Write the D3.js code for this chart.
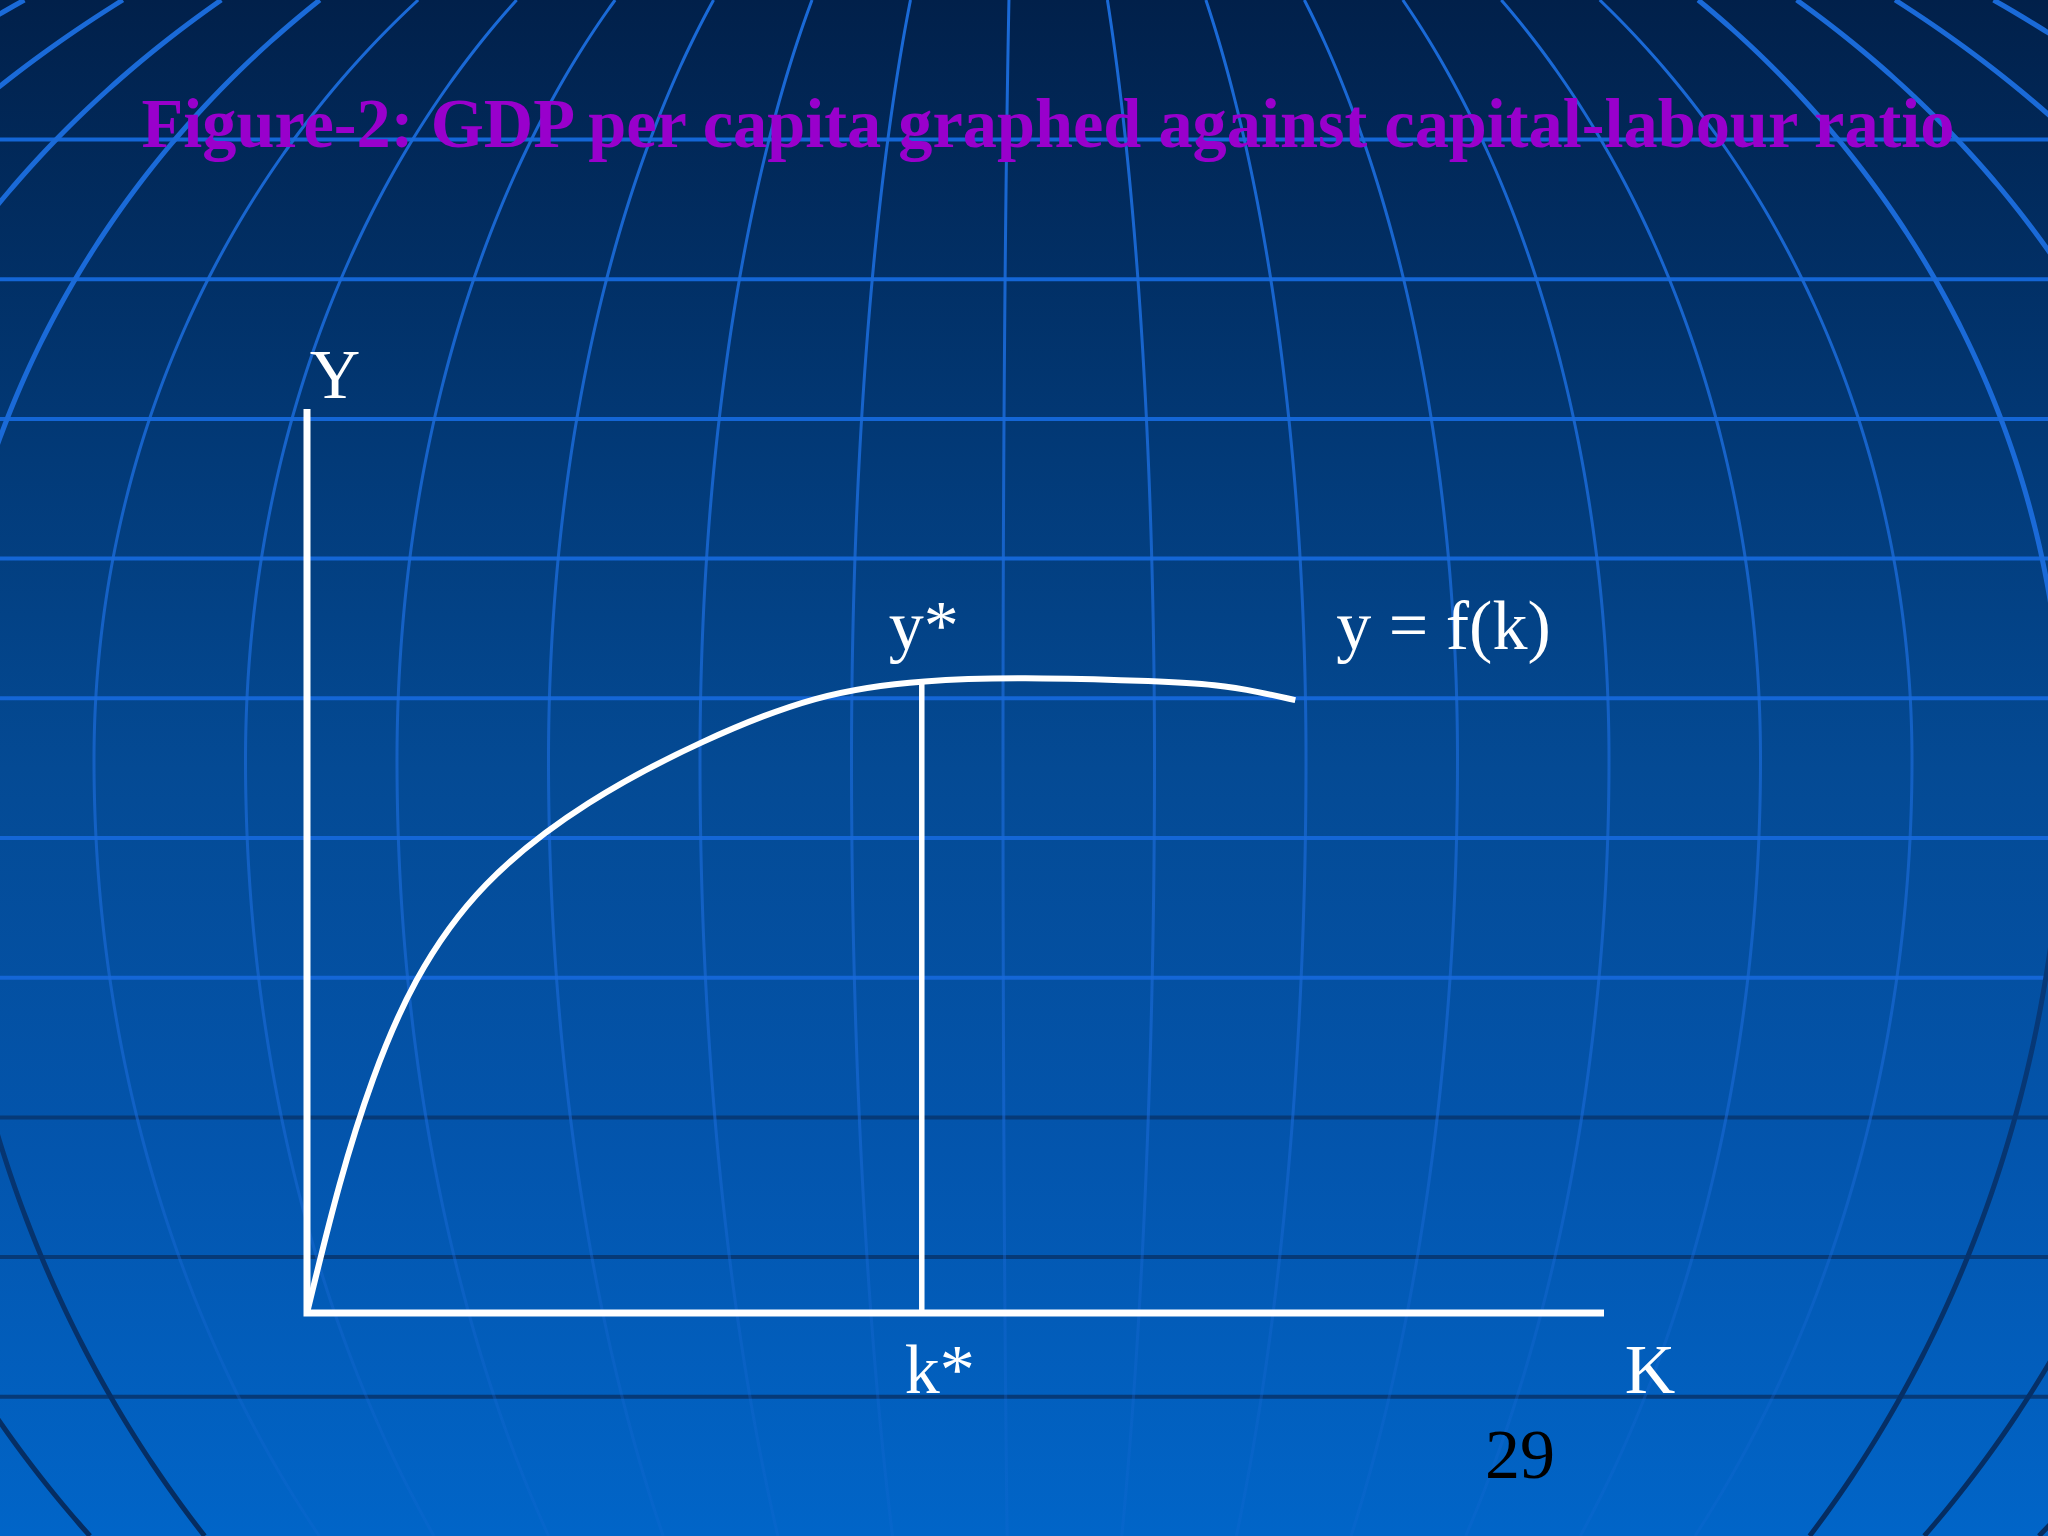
<!DOCTYPE html>
<html>
<head>
<meta charset="utf-8">
<script src="https://cdn.jsdelivr.net/npm/d3@7"></script>
<style>
  html, body { margin: 0; padding: 0; background: #012350; }
  svg { display: block; }
</style>
</head>
<body>
<script>
// y = f(k) (k and y in arbitrary units, axes run 0..10)
const kValues = [0, 0.25, 0.50, 0.81, 1.33, 2.16, 3.05, 3.93, 4.74, 5.69, 6.55, 7.02, 7.34, 7.62];
const yValues = [0, 1.47, 2.60, 3.68, 4.77, 5.68, 6.34, 6.85, 7.01, 7.03, 6.99, 6.95, 6.87, 6.78];
const kStar = 4.74;
const yStar = 7.0;
const kMax = 10;
const yMax = 10;

const title = "Figure-2: GDP per capita graphed against capital-labour ratio";
const yAxisLabel = "Y";
const xAxisLabel = "K";
const yStarLabel = "y*";
const kStarLabel = "k*";
const curveLabel = "y = f(k)";
const slideNumber = "29";

const width = 2048, height = 1536;
const serif = "'Liberation Serif', 'Times New Roman', Times, serif";

const x = d3.scaleLinear().domain([0, kMax]).range([307, 1604]);
const y = d3.scaleLinear().domain([0, yMax]).range([1313, 409]);

const svg = d3.select("body").append("svg")
    .attr("width", width)
    .attr("height", height);

const defs = svg.append("defs");

const bg = defs.append("linearGradient")
    .attr("id", "bg")
    .attr("x1", 0).attr("y1", 0).attr("x2", 0).attr("y2", 1);
[[0, "#01204a"], [0.3, "#023a78"], [0.5, "#044a94"], [0.75, "#0355ad"], [1, "#0165c8"]]
  .forEach(([o, c]) => bg.append("stop").attr("offset", o).attr("stop-color", c));

const thin = defs.append("linearGradient")
    .attr("id", "thin")
    .attr("gradientUnits", "userSpaceOnUse")
    .attr("x1", 0).attr("y1", 0).attr("x2", 0).attr("y2", height);
[[0, 1], [0.3, 0.85], [0.5, 0.7], [0.72, 0.6], [0.88, 0.3], [1, 0.2]]
  .forEach(([o, a]) => thin.append("stop").attr("offset", o)
    .attr("stop-color", "#1a6ad8").attr("stop-opacity", a));

const rim = defs.append("linearGradient")
    .attr("id", "rim")
    .attr("gradientUnits", "userSpaceOnUse")
    .attr("x1", 0).attr("y1", 0).attr("x2", 0).attr("y2", height);
[[0, "#1a6ad8"], [0.5, "#1a6ad8"], [0.62, "#073a7a"], [1, "#052c60"]]
  .forEach(([o, c]) => rim.append("stop").attr("offset", o).attr("stop-color", c));

svg.append("rect")
    .attr("width", width)
    .attr("height", height)
    .attr("fill", "url(#bg)");

// globe grid of the slide template
const grid = svg.append("g").attr("fill", "none");

const gridRows = d3.range(10).map(i => 139.5 + 139.7 * i);
grid.selectAll("line.row")
  .data(gridRows)
  .join("line")
    .attr("class", "row")
    .attr("x1", 0).attr("x2", width)
    .attr("y1", d => d).attr("y2", d => d)
    .attr("stroke", (d, i) => i < 7 ? "#1466d6" : "#063a78")
    .attr("stroke-width", 4);

const bulge = yy => {
  const t = yy < 760 ? (760 - yy) / 1000 : (yy - 760) / 1187;
  return Math.sqrt(Math.max(0, 1 - t * t));
};
const meridian = d3.line()
    .x(d => d[0])
    .y(d => d[1]);
const ySteps = d3.range(0, height + 6, 6);

grid.selectAll("path.meridian")
  .data(d3.range(-10, 11))
  .join("path")
    .attr("class", "meridian")
    .attr("d", k => meridian(ySteps.map(yy => [1020 + (-17 + 151.5 * k) * bulge(yy), yy])))
    .attr("stroke", k => Math.abs(k) >= 7 ? "url(#rim)" : "url(#thin)")
    .attr("stroke-width", k => Math.abs(k) >= 7 ? 5 : 3);

// title
svg.append("text")
    .attr("x", 1048)
    .attr("y", 147)
    .attr("text-anchor", "middle")
    .attr("textLength", 1813)
    .attr("lengthAdjust", "spacingAndGlyphs")
    .style("font", `bold 70px ${serif}`)
    .attr("fill", "#9900cc")
    .text(title);

// chart
const chart = svg.append("g");

chart.append("path")
    .attr("d", d3.line()([[x(0), y(yMax)], [x(0), y(0)], [x(kMax), y(0)]]))
    .attr("fill", "none")
    .attr("stroke", "#fff")
    .attr("stroke-width", 7)
    .attr("stroke-linejoin", "miter");

chart.append("line")
    .attr("x1", x(kStar)).attr("x2", x(kStar))
    .attr("y1", y(0)).attr("y2", y(yStar))
    .attr("stroke", "#fff")
    .attr("stroke-width", 5.5);

const curve = d3.line()
    .x((d, i) => x(kValues[i]))
    .y(d => y(d))
    .curve(d3.curveBasis);

chart.append("path")
    .attr("d", curve(yValues))
    .attr("fill", "none")
    .attr("stroke", "#fff")
    .attr("stroke-width", 6)
    .attr("stroke-linecap", "butt");

const label = (text, px, py, anchor, color) => chart.append("text")
    .attr("x", px)
    .attr("y", py)
    .attr("text-anchor", anchor)
    .style("font", `70px ${serif}`)
    .attr("fill", color || "#fff")
    .text(text);

label(yAxisLabel, x(0) + 28, y(yMax) - 11, "middle");
label(yStarLabel, x(kStar) + 2, y(yStar) - 31, "middle");
label(curveLabel, x(kValues[kValues.length - 1]) + 41, y(yStar) - 31, "start");
label(kStarLabel, x(kStar) + 18, y(0) + 80, "middle");
label(xAxisLabel, x(kMax) + 46, y(0) + 80, "middle");
label(slideNumber, 1520, 1478, "middle", "#000");
</script>
</body>
</html>
